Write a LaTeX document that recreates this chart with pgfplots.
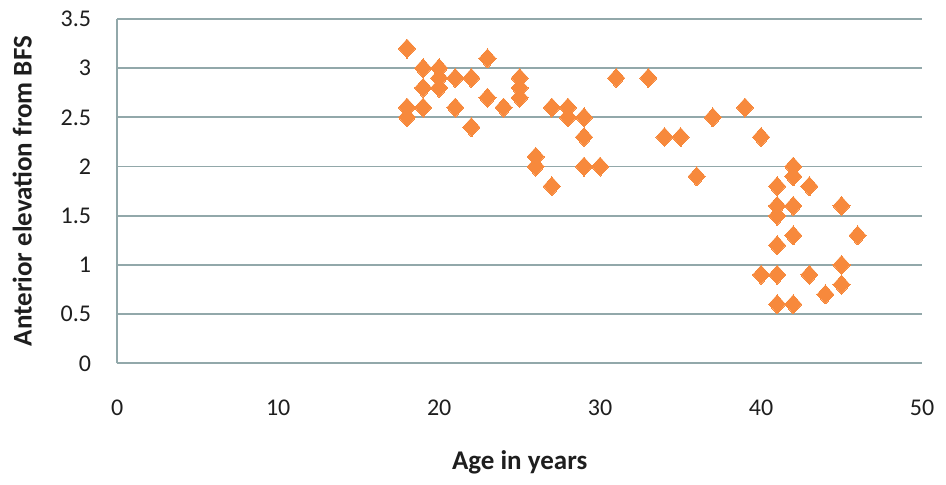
\documentclass[border=0pt]{standalone}
\usepackage{fontspec}
\setmainfont{Carlito}
\usepackage{pgfplots}
\pgfplotsset{compat=1.18}
\definecolor{gridc}{RGB}{146,168,170}
\definecolor{mk}{RGB}{247,137,60}
\definecolor{txt}{RGB}{30,30,30}
\begin{document}
\begin{tikzpicture}
\useasboundingbox (-117.3pt,-121.7pt) rectangle (828.7pt,363.3pt);
\begin{axis}[
  at={(0,0)}, anchor=origin,
  scale only axis,
  width=804.7pt, height=344.3pt,
  xmin=0, xmax=50, ymin=0, ymax=3.5,
  xtick={0,10,20,30,40,50},
  ytick={0,0.5,1,1.5,2,2.5,3,3.5},
  axis lines=left,
  axis line style={-, draw=gridc, line width=1.8pt},
  every inner x axis line/.append style={-},
  every inner y axis line/.append style={-},
  every outer x axis line/.append style={-},
  every outer y axis line/.append style={-},
  major tick length=0pt,
  tick style={draw=none},
  ymajorgrids,
  grid style={draw=gridc, line width=1.8pt},
  /pgf/number format/assume math mode=true,
  tick label style={font=\fontsize{24}{28}\selectfont, text=txt},
  xticklabel style={anchor=base, yshift=-51.7pt},
  yticklabel style={anchor=east, inner sep=0pt, xshift=-26pt},
  every axis x label/.style={at={(axis description cs:0.5,-0.30787)}, anchor=base},
  every axis y label/.style={at={(axis description cs:-0.10638,0.5)}, rotate=90, anchor=base},
  label style={font=\fontsize{27}{32}\selectfont\bfseries, text=txt},
  xlabel={Age in years},
  ylabel={Anterior elevation from BFS},
  clip=false,
]
\addplot[only marks, mark=diamond*, mark size=9.5pt,
  mark options={xscale=1.2, fill=mk, draw=mk, line width=0pt}]
  table {
x y
18 3.2
18 2.6
18 2.5
19 3.0
19 2.8
19 2.6
20 3.0
20 2.9
20 2.8
21 2.9
21 2.6
22 2.9
22 2.4
23 3.1
23 2.7
24 2.6
25 2.9
25 2.8
25 2.7
26 2.1
26 2.0
27 2.6
27 1.8
28 2.6
28 2.5
29 2.5
29 2.3
29 2.0
30 2.0
31 2.9
33 2.9
34 2.3
35 2.3
36 1.9
37 2.5
39 2.6
40 2.3
40 0.9
41 1.8
41 1.6
41 1.5
41 1.2
41 0.9
41 0.6
42 2.0
42 1.9
42 1.6
42 1.3
42 0.6
43 1.8
43 0.9
44 0.7
45 1.6
45 1.0
45 0.8
46 1.3
};
\end{axis}
\end{tikzpicture}
\end{document}
